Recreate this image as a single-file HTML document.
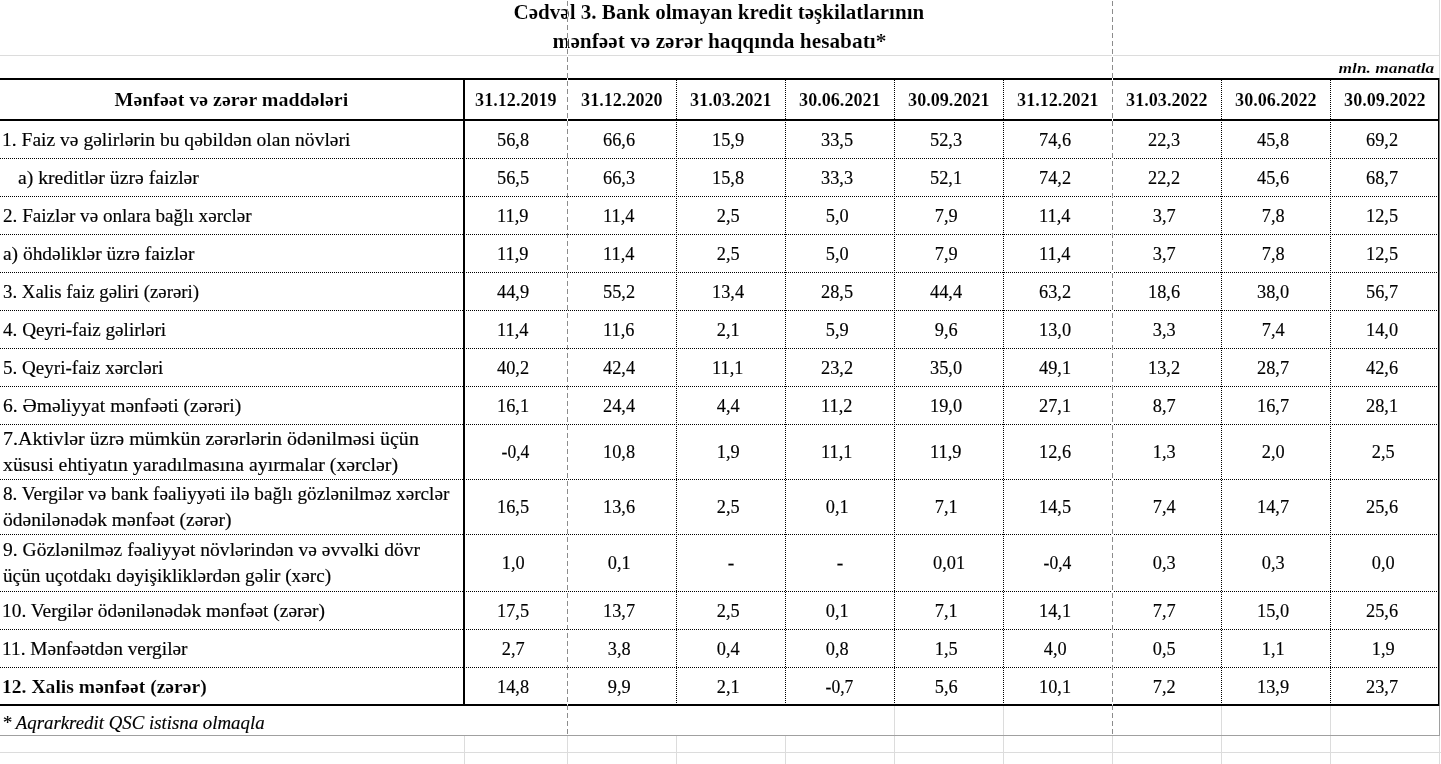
<!DOCTYPE html>
<html lang="az">
<head>
<meta charset="utf-8">
<title>Cədvəl 3. Bank olmayan kredit təşkilatlarının mənfəət və zərər haqqında hesabatı</title>
<style>
html,body{margin:0;padding:0;background:#fff;}
body{width:1441px;height:764px;position:relative;overflow:hidden;font-family:"Liberation Serif",serif;color:#000;}
.ln{position:absolute;background:#000;}
.g{position:absolute;background:#dcdcdc;}
.pa{position:absolute;background:#a0a0a0;}
.hd{position:absolute;height:1px;background-image:repeating-linear-gradient(to right,#000 0,#000 1px,transparent 1px,transparent 2px);}
.vd{position:absolute;width:1px;background-image:repeating-linear-gradient(to bottom,#000 0,#000 1px,transparent 1px,transparent 2px);}
.pb{position:absolute;width:1px;z-index:5;background-color:#fff;background-image:repeating-linear-gradient(to bottom,#8c8c8c 0,#8c8c8c 5px,#fff 5px,#fff 8px);}
.t{position:absolute;white-space:nowrap;line-height:24px;height:24px;font-size:19.5px;-webkit-text-stroke:0.15px #000;}
.t span{display:inline-block;white-space:nowrap;}
.l span{transform-origin:0 50%;}
.c{text-align:center;}
.c span{transform-origin:50% 50%;}
.r{text-align:right;}
.r span{transform-origin:100% 50%;}
.b{font-weight:bold;-webkit-text-stroke:0.12px #fff;}
.i{font-style:italic;}

</style>
</head>
<body>
<div class="g" style="left:0;top:55px;width:1440px;height:1px"></div>
<div class="g" style="left:1439px;top:0;width:1px;height:78px"></div>
<div class="g" style="left:0;top:752px;width:1441px;height:1px"></div>
<div class="g" style="left:464px;top:736px;width:1px;height:28px"></div>
<div class="g" style="left:567px;top:736px;width:1px;height:28px"></div>
<div class="g" style="left:676px;top:736px;width:1px;height:28px"></div>
<div class="g" style="left:785px;top:736px;width:1px;height:28px"></div>
<div class="g" style="left:894px;top:706px;width:1px;height:58px"></div>
<div class="g" style="left:1003px;top:706px;width:1px;height:58px"></div>
<div class="g" style="left:1112px;top:736px;width:1px;height:28px"></div>
<div class="g" style="left:1221px;top:706px;width:1px;height:58px"></div>
<div class="g" style="left:1330px;top:706px;width:1px;height:58px"></div>
<div class="g" style="left:1439px;top:736px;width:1px;height:28px"></div>
<div class="pa" style="left:0;top:735px;width:1440px;height:1px"></div>
<div class="pa" style="left:1439px;top:706px;width:1px;height:30px"></div>
<div class="pb" style="left:567px;top:-7px;height:742px"></div>
<div class="pb" style="left:1112px;top:-7px;height:742px"></div>
<div class="hd" style="left:0;top:158px;width:1438px;background-position:0px 0"></div>
<div class="hd" style="left:0;top:196px;width:1438px;background-position:0px 0"></div>
<div class="hd" style="left:0;top:234px;width:1438px;background-position:0px 0"></div>
<div class="hd" style="left:0;top:272px;width:1438px;background-position:0px 0"></div>
<div class="hd" style="left:0;top:310px;width:1438px;background-position:0px 0"></div>
<div class="hd" style="left:0;top:348px;width:1438px;background-position:0px 0"></div>
<div class="hd" style="left:0;top:386px;width:1438px;background-position:0px 0"></div>
<div class="hd" style="left:0;top:424px;width:1438px;background-position:0px 0"></div>
<div class="hd" style="left:0;top:479px;width:1438px;background-position:0px 0"></div>
<div class="hd" style="left:0;top:534px;width:1438px;background-position:0px 0"></div>
<div class="hd" style="left:0;top:591px;width:1438px;background-position:0px 0"></div>
<div class="hd" style="left:0;top:629px;width:1438px;background-position:0px 0"></div>
<div class="hd" style="left:0;top:667px;width:1438px;background-position:0px 0"></div>
<div class="vd" style="left:676px;top:80px;height:624px;background-position:0 0px"></div>
<div class="vd" style="left:785px;top:80px;height:624px;background-position:0 0px"></div>
<div class="vd" style="left:894px;top:80px;height:624px;background-position:0 0px"></div>
<div class="vd" style="left:1003px;top:80px;height:624px;background-position:0 0px"></div>
<div class="vd" style="left:1221px;top:80px;height:624px;background-position:0 0px"></div>
<div class="vd" style="left:1330px;top:80px;height:624px;background-position:0 0px"></div>
<div class="ln" style="left:0;top:78px;width:1440px;height:2px"></div>
<div class="ln" style="left:0;top:119px;width:1440px;height:2px"></div>
<div class="ln" style="left:0;top:704px;width:1440px;height:2px"></div>
<div class="ln" style="left:463px;top:78px;width:2px;height:628px"></div>
<div class="ln" style="left:1438px;top:78px;width:1px;height:628px"></div>
<div class="ln" style="left:1439px;top:78px;width:1px;height:628px;background:#7a7a7a"></div>
<div id="t1" class="t c b" style="left:-0.70px;width:1439px;top:0px;font-size:20px;"><span style="transform:scaleX(1.0542)">Cədvəl 3. Bank olmayan kredit təşkilatlarının</span></div>
<div id="t2" class="t c b" style="left:-0.26px;width:1439px;top:29px;font-size:20px;"><span style="transform:scaleX(1.0664)">mənfəət və zərər haqqında hesabatı*</span></div>
<div id="mln" class="t r b i" style="left:999.95px;width:434px;top:56px;font-size:15.5px;"><span style="transform:scaleX(1.1229)">mln. manatla</span></div>
<div id="h0" class="t c b" style="left:-0.17px;width:463px;top:88px;font-size:19px;"><span style="transform:scaleX(1.0486)">Mənfəət və zərər maddələri</span></div>
<div id="h1" class="t c b" style="left:464.70px;width:102px;top:88px;"><span style="transform:scaleX(0.9300)">31.12.2019</span></div>
<div id="h2" class="t c b" style="left:567.70px;width:108px;top:88px;"><span style="transform:scaleX(0.9300)">31.12.2020</span></div>
<div id="h3" class="t c b" style="left:676.70px;width:108px;top:88px;"><span style="transform:scaleX(0.9300)">31.03.2021</span></div>
<div id="h4" class="t c b" style="left:785.70px;width:108px;top:88px;"><span style="transform:scaleX(0.9300)">30.06.2021</span></div>
<div id="h5" class="t c b" style="left:894.70px;width:108px;top:88px;"><span style="transform:scaleX(0.9300)">30.09.2021</span></div>
<div id="h6" class="t c b" style="left:1003.70px;width:108px;top:88px;"><span style="transform:scaleX(0.9300)">31.12.2021</span></div>
<div id="h7" class="t c b" style="left:1112.70px;width:108px;top:88px;"><span style="transform:scaleX(0.9300)">31.03.2022</span></div>
<div id="h8" class="t c b" style="left:1221.70px;width:108px;top:88px;"><span style="transform:scaleX(0.9300)">30.06.2022</span></div>
<div id="h9" class="t c b" style="left:1330.70px;width:109px;top:88px;"><span style="transform:scaleX(0.9300)">30.09.2022</span></div>
<div id="r0l0" class="t l" style="left:2.00px;width:459px;top:128px;"><span style="transform:scaleX(1.0023)">1. Faiz və gəlirlərin bu qəbildən olan növləri</span></div>
<div id="r0v0" class="t c" style="left:461.60px;width:102px;top:128px;"><span style="transform:scaleX(0.9400)">56,8</span></div>
<div id="r0v1" class="t c" style="left:564.60px;width:108px;top:128px;"><span style="transform:scaleX(0.9400)">66,6</span></div>
<div id="r0v2" class="t c" style="left:673.60px;width:108px;top:128px;"><span style="transform:scaleX(0.9400)">15,9</span></div>
<div id="r0v3" class="t c" style="left:782.60px;width:108px;top:128px;"><span style="transform:scaleX(0.9400)">33,5</span></div>
<div id="r0v4" class="t c" style="left:891.60px;width:108px;top:128px;"><span style="transform:scaleX(0.9400)">52,3</span></div>
<div id="r0v5" class="t c" style="left:1000.60px;width:108px;top:128px;"><span style="transform:scaleX(0.9400)">74,6</span></div>
<div id="r0v6" class="t c" style="left:1109.60px;width:108px;top:128px;"><span style="transform:scaleX(0.9400)">22,3</span></div>
<div id="r0v7" class="t c" style="left:1218.60px;width:108px;top:128px;"><span style="transform:scaleX(0.9400)">45,8</span></div>
<div id="r0v8" class="t c" style="left:1327.60px;width:109px;top:128px;"><span style="transform:scaleX(0.9400)">69,2</span></div>
<div id="r1l0" class="t l" style="left:18.00px;width:459px;top:166px;"><span style="transform:scaleX(1.0097)">a) kreditlər üzrə faizlər</span></div>
<div id="r1v0" class="t c" style="left:461.60px;width:102px;top:166px;"><span style="transform:scaleX(0.9400)">56,5</span></div>
<div id="r1v1" class="t c" style="left:564.60px;width:108px;top:166px;"><span style="transform:scaleX(0.9400)">66,3</span></div>
<div id="r1v2" class="t c" style="left:673.60px;width:108px;top:166px;"><span style="transform:scaleX(0.9400)">15,8</span></div>
<div id="r1v3" class="t c" style="left:782.60px;width:108px;top:166px;"><span style="transform:scaleX(0.9400)">33,3</span></div>
<div id="r1v4" class="t c" style="left:891.60px;width:108px;top:166px;"><span style="transform:scaleX(0.9400)">52,1</span></div>
<div id="r1v5" class="t c" style="left:1000.60px;width:108px;top:166px;"><span style="transform:scaleX(0.9400)">74,2</span></div>
<div id="r1v6" class="t c" style="left:1109.60px;width:108px;top:166px;"><span style="transform:scaleX(0.9400)">22,2</span></div>
<div id="r1v7" class="t c" style="left:1218.60px;width:108px;top:166px;"><span style="transform:scaleX(0.9400)">45,6</span></div>
<div id="r1v8" class="t c" style="left:1327.60px;width:109px;top:166px;"><span style="transform:scaleX(0.9400)">68,7</span></div>
<div id="r2l0" class="t l" style="left:3.00px;width:459px;top:204px;"><span style="transform:scaleX(0.9815)">2. Faizlər və onlara bağlı xərclər</span></div>
<div id="r2v0" class="t c" style="left:461.60px;width:102px;top:204px;"><span style="transform:scaleX(0.9400)">11,9</span></div>
<div id="r2v1" class="t c" style="left:564.60px;width:108px;top:204px;"><span style="transform:scaleX(0.9400)">11,4</span></div>
<div id="r2v2" class="t c" style="left:674.60px;width:108px;top:204px;"><span style="transform:scaleX(0.9400)">2,5</span></div>
<div id="r2v3" class="t c" style="left:783.60px;width:108px;top:204px;"><span style="transform:scaleX(0.9400)">5,0</span></div>
<div id="r2v4" class="t c" style="left:892.60px;width:108px;top:204px;"><span style="transform:scaleX(0.9400)">7,9</span></div>
<div id="r2v5" class="t c" style="left:1000.60px;width:108px;top:204px;"><span style="transform:scaleX(0.9400)">11,4</span></div>
<div id="r2v6" class="t c" style="left:1110.60px;width:108px;top:204px;"><span style="transform:scaleX(0.9400)">3,7</span></div>
<div id="r2v7" class="t c" style="left:1219.60px;width:108px;top:204px;"><span style="transform:scaleX(0.9400)">7,8</span></div>
<div id="r2v8" class="t c" style="left:1327.60px;width:109px;top:204px;"><span style="transform:scaleX(0.9400)">12,5</span></div>
<div id="r3l0" class="t l" style="left:3.00px;width:459px;top:242px;"><span style="transform:scaleX(0.9958)">a) öhdəliklər üzrə faizlər</span></div>
<div id="r3v0" class="t c" style="left:461.60px;width:102px;top:242px;"><span style="transform:scaleX(0.9400)">11,9</span></div>
<div id="r3v1" class="t c" style="left:564.60px;width:108px;top:242px;"><span style="transform:scaleX(0.9400)">11,4</span></div>
<div id="r3v2" class="t c" style="left:674.60px;width:108px;top:242px;"><span style="transform:scaleX(0.9400)">2,5</span></div>
<div id="r3v3" class="t c" style="left:783.60px;width:108px;top:242px;"><span style="transform:scaleX(0.9400)">5,0</span></div>
<div id="r3v4" class="t c" style="left:892.60px;width:108px;top:242px;"><span style="transform:scaleX(0.9400)">7,9</span></div>
<div id="r3v5" class="t c" style="left:1000.60px;width:108px;top:242px;"><span style="transform:scaleX(0.9400)">11,4</span></div>
<div id="r3v6" class="t c" style="left:1110.60px;width:108px;top:242px;"><span style="transform:scaleX(0.9400)">3,7</span></div>
<div id="r3v7" class="t c" style="left:1219.60px;width:108px;top:242px;"><span style="transform:scaleX(0.9400)">7,8</span></div>
<div id="r3v8" class="t c" style="left:1327.60px;width:109px;top:242px;"><span style="transform:scaleX(0.9400)">12,5</span></div>
<div id="r4l0" class="t l" style="left:3.00px;width:459px;top:280px;"><span style="transform:scaleX(0.9658)">3. Xalis faiz gəliri (zərəri)</span></div>
<div id="r4v0" class="t c" style="left:461.60px;width:102px;top:280px;"><span style="transform:scaleX(0.9400)">44,9</span></div>
<div id="r4v1" class="t c" style="left:564.60px;width:108px;top:280px;"><span style="transform:scaleX(0.9400)">55,2</span></div>
<div id="r4v2" class="t c" style="left:673.60px;width:108px;top:280px;"><span style="transform:scaleX(0.9400)">13,4</span></div>
<div id="r4v3" class="t c" style="left:782.60px;width:108px;top:280px;"><span style="transform:scaleX(0.9400)">28,5</span></div>
<div id="r4v4" class="t c" style="left:891.60px;width:108px;top:280px;"><span style="transform:scaleX(0.9400)">44,4</span></div>
<div id="r4v5" class="t c" style="left:1000.60px;width:108px;top:280px;"><span style="transform:scaleX(0.9400)">63,2</span></div>
<div id="r4v6" class="t c" style="left:1109.60px;width:108px;top:280px;"><span style="transform:scaleX(0.9400)">18,6</span></div>
<div id="r4v7" class="t c" style="left:1218.60px;width:108px;top:280px;"><span style="transform:scaleX(0.9400)">38,0</span></div>
<div id="r4v8" class="t c" style="left:1327.60px;width:109px;top:280px;"><span style="transform:scaleX(0.9400)">56,7</span></div>
<div id="r5l0" class="t l" style="left:3.00px;width:459px;top:318px;"><span style="transform:scaleX(0.9811)">4. Qeyri-faiz gəlirləri</span></div>
<div id="r5v0" class="t c" style="left:461.60px;width:102px;top:318px;"><span style="transform:scaleX(0.9400)">11,4</span></div>
<div id="r5v1" class="t c" style="left:564.60px;width:108px;top:318px;"><span style="transform:scaleX(0.9400)">11,6</span></div>
<div id="r5v2" class="t c" style="left:674.60px;width:108px;top:318px;"><span style="transform:scaleX(0.9400)">2,1</span></div>
<div id="r5v3" class="t c" style="left:783.60px;width:108px;top:318px;"><span style="transform:scaleX(0.9400)">5,9</span></div>
<div id="r5v4" class="t c" style="left:892.60px;width:108px;top:318px;"><span style="transform:scaleX(0.9400)">9,6</span></div>
<div id="r5v5" class="t c" style="left:1000.60px;width:108px;top:318px;"><span style="transform:scaleX(0.9400)">13,0</span></div>
<div id="r5v6" class="t c" style="left:1110.60px;width:108px;top:318px;"><span style="transform:scaleX(0.9400)">3,3</span></div>
<div id="r5v7" class="t c" style="left:1219.60px;width:108px;top:318px;"><span style="transform:scaleX(0.9400)">7,4</span></div>
<div id="r5v8" class="t c" style="left:1327.60px;width:109px;top:318px;"><span style="transform:scaleX(0.9400)">14,0</span></div>
<div id="r6l0" class="t l" style="left:3.00px;width:459px;top:356px;"><span style="transform:scaleX(0.9774)">5. Qeyri-faiz xərcləri</span></div>
<div id="r6v0" class="t c" style="left:461.60px;width:102px;top:356px;"><span style="transform:scaleX(0.9400)">40,2</span></div>
<div id="r6v1" class="t c" style="left:564.60px;width:108px;top:356px;"><span style="transform:scaleX(0.9400)">42,4</span></div>
<div id="r6v2" class="t c" style="left:673.60px;width:108px;top:356px;"><span style="transform:scaleX(0.9400)">11,1</span></div>
<div id="r6v3" class="t c" style="left:782.60px;width:108px;top:356px;"><span style="transform:scaleX(0.9400)">23,2</span></div>
<div id="r6v4" class="t c" style="left:891.60px;width:108px;top:356px;"><span style="transform:scaleX(0.9400)">35,0</span></div>
<div id="r6v5" class="t c" style="left:1000.60px;width:108px;top:356px;"><span style="transform:scaleX(0.9400)">49,1</span></div>
<div id="r6v6" class="t c" style="left:1109.60px;width:108px;top:356px;"><span style="transform:scaleX(0.9400)">13,2</span></div>
<div id="r6v7" class="t c" style="left:1218.60px;width:108px;top:356px;"><span style="transform:scaleX(0.9400)">28,7</span></div>
<div id="r6v8" class="t c" style="left:1327.60px;width:109px;top:356px;"><span style="transform:scaleX(0.9400)">42,6</span></div>
<div id="r7l0" class="t l" style="left:3.00px;width:459px;top:394px;"><span style="transform:scaleX(1.0043)">6. Əməliyyat mənfəəti (zərəri)</span></div>
<div id="r7v0" class="t c" style="left:461.60px;width:102px;top:394px;"><span style="transform:scaleX(0.9400)">16,1</span></div>
<div id="r7v1" class="t c" style="left:564.60px;width:108px;top:394px;"><span style="transform:scaleX(0.9400)">24,4</span></div>
<div id="r7v2" class="t c" style="left:674.60px;width:108px;top:394px;"><span style="transform:scaleX(0.9400)">4,4</span></div>
<div id="r7v3" class="t c" style="left:782.60px;width:108px;top:394px;"><span style="transform:scaleX(0.9400)">11,2</span></div>
<div id="r7v4" class="t c" style="left:891.60px;width:108px;top:394px;"><span style="transform:scaleX(0.9400)">19,0</span></div>
<div id="r7v5" class="t c" style="left:1000.60px;width:108px;top:394px;"><span style="transform:scaleX(0.9400)">27,1</span></div>
<div id="r7v6" class="t c" style="left:1110.60px;width:108px;top:394px;"><span style="transform:scaleX(0.9400)">8,7</span></div>
<div id="r7v7" class="t c" style="left:1218.60px;width:108px;top:394px;"><span style="transform:scaleX(0.9400)">16,7</span></div>
<div id="r7v8" class="t c" style="left:1327.60px;width:109px;top:394px;"><span style="transform:scaleX(0.9400)">28,1</span></div>
<div id="r8l0" class="t l" style="left:3.00px;width:459px;top:427px;"><span style="transform:scaleX(1.0268)">7.Aktivlər üzrə mümkün zərərlərin ödənilməsi üçün</span></div>
<div id="r8l1" class="t l" style="left:3.00px;width:459px;top:453px;"><span style="transform:scaleX(1.0160)">xüsusi ehtiyatın yaradılmasına ayırmalar (xərclər)</span></div>
<div id="r8v0" class="t c" style="left:464.50px;width:102px;top:440px;"><span style="transform:scaleX(0.9000)">-0,4</span></div>
<div id="r8v1" class="t c" style="left:564.60px;width:108px;top:440px;"><span style="transform:scaleX(0.9400)">10,8</span></div>
<div id="r8v2" class="t c" style="left:674.60px;width:108px;top:440px;"><span style="transform:scaleX(0.9400)">1,9</span></div>
<div id="r8v3" class="t c" style="left:782.60px;width:108px;top:440px;"><span style="transform:scaleX(0.9400)">11,1</span></div>
<div id="r8v4" class="t c" style="left:891.60px;width:108px;top:440px;"><span style="transform:scaleX(0.9400)">11,9</span></div>
<div id="r8v5" class="t c" style="left:1000.60px;width:108px;top:440px;"><span style="transform:scaleX(0.9400)">12,6</span></div>
<div id="r8v6" class="t c" style="left:1110.60px;width:108px;top:440px;"><span style="transform:scaleX(0.9400)">1,3</span></div>
<div id="r8v7" class="t c" style="left:1219.60px;width:108px;top:440px;"><span style="transform:scaleX(0.9400)">2,0</span></div>
<div id="r8v8" class="t c" style="left:1328.60px;width:109px;top:440px;"><span style="transform:scaleX(0.9400)">2,5</span></div>
<div id="r9l0" class="t l" style="left:3.00px;width:459px;top:482px;"><span style="transform:scaleX(0.9840)">8. Vergilər və bank fəaliyyəti ilə bağlı gözlənilməz xərclər</span></div>
<div id="r9l1" class="t l" style="left:3.00px;width:459px;top:508px;"><span style="transform:scaleX(1.0003)">ödənilənədək mənfəət (zərər)</span></div>
<div id="r9v0" class="t c" style="left:461.60px;width:102px;top:495px;"><span style="transform:scaleX(0.9400)">16,5</span></div>
<div id="r9v1" class="t c" style="left:564.60px;width:108px;top:495px;"><span style="transform:scaleX(0.9400)">13,6</span></div>
<div id="r9v2" class="t c" style="left:674.60px;width:108px;top:495px;"><span style="transform:scaleX(0.9400)">2,5</span></div>
<div id="r9v3" class="t c" style="left:783.60px;width:108px;top:495px;"><span style="transform:scaleX(0.9400)">0,1</span></div>
<div id="r9v4" class="t c" style="left:892.60px;width:108px;top:495px;"><span style="transform:scaleX(0.9400)">7,1</span></div>
<div id="r9v5" class="t c" style="left:1000.60px;width:108px;top:495px;"><span style="transform:scaleX(0.9400)">14,5</span></div>
<div id="r9v6" class="t c" style="left:1110.60px;width:108px;top:495px;"><span style="transform:scaleX(0.9400)">7,4</span></div>
<div id="r9v7" class="t c" style="left:1218.60px;width:108px;top:495px;"><span style="transform:scaleX(0.9400)">14,7</span></div>
<div id="r9v8" class="t c" style="left:1327.60px;width:109px;top:495px;"><span style="transform:scaleX(0.9400)">25,6</span></div>
<div id="r10l0" class="t l" style="left:3.00px;width:459px;top:538px;"><span style="transform:scaleX(1.0013)">9. Gözlənilməz fəaliyyət növlərindən və əvvəlki dövr</span></div>
<div id="r10l1" class="t l" style="left:3.00px;width:459px;top:564px;"><span style="transform:scaleX(0.9870)">üçün uçotdakı dəyişikliklərdən gəlir (xərc)</span></div>
<div id="r10v0" class="t c" style="left:462.60px;width:102px;top:551px;"><span style="transform:scaleX(0.9400)">1,0</span></div>
<div id="r10v1" class="t c" style="left:565.60px;width:108px;top:551px;"><span style="transform:scaleX(0.9400)">0,1</span></div>
<div id="r10v2" class="t c" style="left:677.00px;width:108px;top:551px;"><span>-</span></div>
<div id="r10v3" class="t c" style="left:786.00px;width:108px;top:551px;"><span>-</span></div>
<div id="r10v4" class="t c" style="left:894.60px;width:108px;top:551px;"><span style="transform:scaleX(0.9400)">0,01</span></div>
<div id="r10v5" class="t c" style="left:1003.50px;width:108px;top:551px;"><span style="transform:scaleX(0.9000)">-0,4</span></div>
<div id="r10v6" class="t c" style="left:1110.60px;width:108px;top:551px;"><span style="transform:scaleX(0.9400)">0,3</span></div>
<div id="r10v7" class="t c" style="left:1219.60px;width:108px;top:551px;"><span style="transform:scaleX(0.9400)">0,3</span></div>
<div id="r10v8" class="t c" style="left:1328.60px;width:109px;top:551px;"><span style="transform:scaleX(0.9400)">0,0</span></div>
<div id="r11l0" class="t l" style="left:2.00px;width:459px;top:599px;"><span style="transform:scaleX(0.9949)">10. Vergilər ödənilənədək mənfəət (zərər)</span></div>
<div id="r11v0" class="t c" style="left:461.60px;width:102px;top:599px;"><span style="transform:scaleX(0.9400)">17,5</span></div>
<div id="r11v1" class="t c" style="left:564.60px;width:108px;top:599px;"><span style="transform:scaleX(0.9400)">13,7</span></div>
<div id="r11v2" class="t c" style="left:674.60px;width:108px;top:599px;"><span style="transform:scaleX(0.9400)">2,5</span></div>
<div id="r11v3" class="t c" style="left:783.60px;width:108px;top:599px;"><span style="transform:scaleX(0.9400)">0,1</span></div>
<div id="r11v4" class="t c" style="left:892.60px;width:108px;top:599px;"><span style="transform:scaleX(0.9400)">7,1</span></div>
<div id="r11v5" class="t c" style="left:1000.60px;width:108px;top:599px;"><span style="transform:scaleX(0.9400)">14,1</span></div>
<div id="r11v6" class="t c" style="left:1110.60px;width:108px;top:599px;"><span style="transform:scaleX(0.9400)">7,7</span></div>
<div id="r11v7" class="t c" style="left:1218.60px;width:108px;top:599px;"><span style="transform:scaleX(0.9400)">15,0</span></div>
<div id="r11v8" class="t c" style="left:1327.60px;width:109px;top:599px;"><span style="transform:scaleX(0.9400)">25,6</span></div>
<div id="r12l0" class="t l" style="left:2.00px;width:459px;top:637px;"><span style="transform:scaleX(0.9934)">11. Mənfəətdən vergilər</span></div>
<div id="r12v0" class="t c" style="left:462.60px;width:102px;top:637px;"><span style="transform:scaleX(0.9400)">2,7</span></div>
<div id="r12v1" class="t c" style="left:565.60px;width:108px;top:637px;"><span style="transform:scaleX(0.9400)">3,8</span></div>
<div id="r12v2" class="t c" style="left:674.60px;width:108px;top:637px;"><span style="transform:scaleX(0.9400)">0,4</span></div>
<div id="r12v3" class="t c" style="left:783.60px;width:108px;top:637px;"><span style="transform:scaleX(0.9400)">0,8</span></div>
<div id="r12v4" class="t c" style="left:892.60px;width:108px;top:637px;"><span style="transform:scaleX(0.9400)">1,5</span></div>
<div id="r12v5" class="t c" style="left:1001.60px;width:108px;top:637px;"><span style="transform:scaleX(0.9400)">4,0</span></div>
<div id="r12v6" class="t c" style="left:1110.60px;width:108px;top:637px;"><span style="transform:scaleX(0.9400)">0,5</span></div>
<div id="r12v7" class="t c" style="left:1219.60px;width:108px;top:637px;"><span style="transform:scaleX(0.9400)">1,1</span></div>
<div id="r12v8" class="t c" style="left:1328.60px;width:109px;top:637px;"><span style="transform:scaleX(0.9400)">1,9</span></div>
<div id="r13l0" class="t l b" style="left:2.00px;width:459px;top:675px;"><span style="transform:scaleX(1.0057)">12. Xalis mənfəət (zərər)</span></div>
<div id="r13v0" class="t c" style="left:461.60px;width:102px;top:675px;"><span style="transform:scaleX(0.9400)">14,8</span></div>
<div id="r13v1" class="t c" style="left:565.60px;width:108px;top:675px;"><span style="transform:scaleX(0.9400)">9,9</span></div>
<div id="r13v2" class="t c" style="left:674.60px;width:108px;top:675px;"><span style="transform:scaleX(0.9400)">2,1</span></div>
<div id="r13v3" class="t c" style="left:785.50px;width:108px;top:675px;"><span style="transform:scaleX(0.9000)">-0,7</span></div>
<div id="r13v4" class="t c" style="left:892.60px;width:108px;top:675px;"><span style="transform:scaleX(0.9400)">5,6</span></div>
<div id="r13v5" class="t c" style="left:1000.60px;width:108px;top:675px;"><span style="transform:scaleX(0.9400)">10,1</span></div>
<div id="r13v6" class="t c" style="left:1110.60px;width:108px;top:675px;"><span style="transform:scaleX(0.9400)">7,2</span></div>
<div id="r13v7" class="t c" style="left:1218.60px;width:108px;top:675px;"><span style="transform:scaleX(0.9400)">13,9</span></div>
<div id="r13v8" class="t c" style="left:1327.60px;width:109px;top:675px;"><span style="transform:scaleX(0.9400)">23,7</span></div>
<div id="fn" class="t l i" style="left:2.00px;width:600px;top:711px;"><span style="transform:scaleX(0.9656)">* Aqrarkredit QSC istisna olmaqla</span></div>
</body>
</html>
